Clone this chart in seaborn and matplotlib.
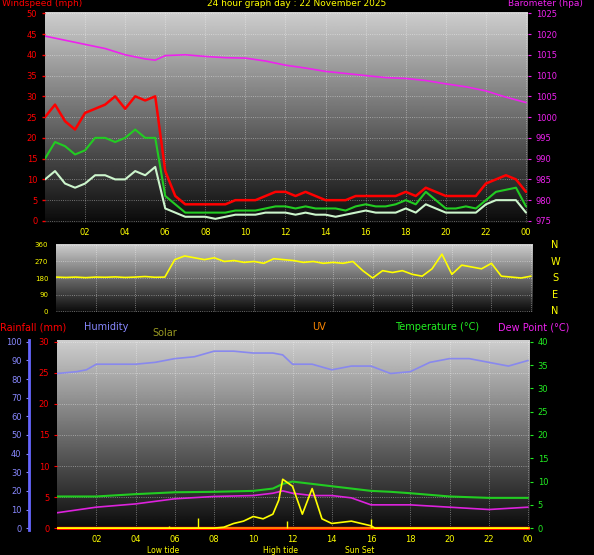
import matplotlib
matplotlib.use("Agg")
import matplotlib.pyplot as plt
import numpy as np
import seaborn as sns

sns.set_style("dark")
plt.rcParams["font.family"] = ["DejaVu Sans"]

# half-hourly time axis (hours)
hours = [h / 2 for h in range(49)]
gust = [25, 28, 24, 22, 26, 27, 28, 30, 27, 30, 29, 30, 12, 6, 4, 4, 4, 4, 4, 5, 5, 5, 6, 7, 7,
        6, 7, 6, 5, 5, 5, 6, 6, 6, 6, 6, 7, 6, 8, 7, 6, 6, 6, 6, 9, 10, 11, 10, 7]
avg_wind = [15, 19, 18, 16, 17, 20, 20, 19, 20, 22, 20, 20, 6, 4, 2, 2, 2, 2, 2, 2.5, 2.5, 2.5, 3, 3.5, 3.5,
            3, 3.5, 3, 3, 3, 2.5, 3.5, 4, 3.5, 3.5, 4, 5, 4, 7, 5, 3, 3, 3.5, 3, 5, 7, 7.5, 8, 3.5]
wind = [10, 12, 9, 8, 9, 11, 11, 10, 10, 12, 11, 13, 3, 2, 1, 1, 1, 0.5, 1, 1.5, 1.5, 1.5, 2, 2, 2,
        1.5, 2, 1.5, 1.5, 1, 1.5, 2, 2.5, 2, 2, 2, 3, 2, 4, 3, 2, 2, 2, 2, 4, 5, 5, 5, 2]
direction = [185, 183, 185, 182, 185, 184, 186, 183, 185, 188, 184, 185, 280, 300, 290, 280, 290, 270, 275, 265,
             270, 260, 285, 280, 275, 265, 270, 260, 265, 260, 270, 220, 180, 220, 210, 220, 200, 190, 230, 310,
             200, 250, 240, 230, 260, 190, 185, 180, 190]

baro_hours = [0, 1, 2, 3, 4, 5, 5.5, 6, 7, 8, 9, 10, 11, 12, 13, 14, 15, 16, 17, 18, 19, 20, 21, 22, 23, 24]
baro = [1019.5, 1018.5, 1017.5, 1016.5, 1015, 1014, 1013.7, 1014.8, 1015, 1014.6, 1014.3, 1014.2, 1013.5,
        1012.5, 1011.8, 1011, 1010.5, 1010, 1009.5, 1009.3, 1008.8, 1008, 1007.3, 1006.3, 1004.8, 1003.5]

hum_hours = [0, 1, 1.5, 2, 3, 4, 5, 6, 7, 8, 9, 10, 11, 11.5, 12, 13, 14, 15, 16, 17, 18, 19, 20, 21, 22, 23, 24]
humidity = [83, 84, 85, 88, 88, 88, 89, 91, 92, 95, 95, 94, 94, 93, 88, 88, 85, 87, 87, 83, 84, 89, 91, 91, 89, 87, 90]

temp_hours = [0, 2, 4, 6, 8, 10, 11, 11.5, 12, 13, 14, 15, 16, 17, 18, 20, 22, 24]
temperature = [6.8, 6.8, 7.3, 7.7, 7.8, 8, 8.5, 9.5, 10, 9.5, 9, 8.5, 8, 7.8, 7.5, 6.8, 6.5, 6.5]
dew_point = [3.3, 4.5, 5.2, 6.3, 6.8, 7, 7.5, 8, 7.5, 7, 7, 6.5, 5, 5, 5, 4.5, 4, 4.5]

solar_hours = [0, 8, 8.5, 9, 9.5, 10, 10.5, 11, 11.3, 11.5, 12, 12.5, 13, 13.5, 14, 15, 15.5, 16, 16.2, 24]
solar = [0, 0, 0.2, 1, 1.5, 2.5, 2, 3, 6, 10.5, 9, 3, 8.5, 2, 1, 1.5, 1, 0.5, 0, 0]

tide_times = [5.7, 7.2, 11.7, 16.0]
tide_heights = [0.5, 2.2, 1.5, 2.0]

xticks = list(range(2, 25, 2))
xlabels = ["%02d" % (t % 24) for t in xticks]

W, H = 594, 555
fig = plt.figure(figsize=(W / 100, H / 100), dpi=100, facecolor="black")
grad = np.linspace(0, 1, 256).reshape(-1, 1)


def box(l, t, r, b):
    return [l / W, 1 - b / H, (r - l) / W, (b - t) / H]


def style(ax, xl=True):
    ax.imshow(grad, aspect="auto", cmap="gray", vmin=-0.05, vmax=1.25, extent=(0, 1, 0, 1),
              transform=ax.transAxes, zorder=0, origin="lower")
    ax.set_facecolor("black")
    ax.grid(True, color="white", linestyle=":", linewidth=0.6, alpha=0.5)
    ax.set_axisbelow(False)
    ax.set_xlim(0, 24.1)
    ax.set_xticks(xticks)
    ax.set_xticklabels(xlabels if xl else [])
    ax.tick_params(axis="x", colors="yellow", labelsize=6, length=0)
    for s in ax.spines.values():
        s.set_visible(False)


# wind panel
ax1 = fig.add_axes(box(45, 12, 528, 223))
style(ax1)
ax1.plot(hours, gust, color="red", lw=1.8, zorder=3)
ax1.plot(hours, wind, color="#ccf5cc", lw=1.5, zorder=3)
ax1.plot(hours, avg_wind, color="#22cc22", lw=1.5, zorder=4)
ax1.set_ylim(-0.5, 50.3)
ax1.set_yticks(range(0, 51, 5))
ax1.tick_params(axis="y", colors="red", labelsize=6, length=2, width=1)
axb = ax1.twinx()
axb.plot(baro_hours, baro, color="#ee22ee", lw=1.2, zorder=5)
axb.set_ylim(974.5, 1025.3)
axb.set_yticks(range(975, 1026, 5))
axb.tick_params(axis="y", colors="#ee22ee", labelsize=6, length=2)
axb.grid(False)
for s in axb.spines.values():
    s.set_visible(False)
fig.text(2 / W, 1 - 4 / H, "Windspeed (mph)", color="red", fontsize=6.5, va="center")
fig.text(0.5, 1 - 4 / H, "24 hour graph day : 22 November 2025", color="yellow", fontsize=6.5,
         ha="center", va="center")
fig.text(545 / W, 1 - 4 / H, "Barometer (hpa)", color="#ee22ee", fontsize=6.5, ha="center", va="center")

# direction panel
ax2 = fig.add_axes(box(56, 244, 533, 312))
style(ax2, xl=False)
ax2.plot(hours, direction, color="yellow", lw=1.2, zorder=3)
ax2.set_ylim(-5, 365)
ax2.set_yticks([0, 90, 180, 270, 360])
ax2.tick_params(axis="y", colors="yellow", labelsize=5, length=2)
for i, lab in enumerate(["N", "W", "S", "E", "N"]):
    fig.text(555 / W, 1 - (245 + i * 16.5) / H, lab, color="yellow", fontsize=7, ha="center", va="center")

# legend row
for x, y, lab, col in [(0, 327, "Rainfall (mm)", "red"), (84, 327, "Humidity", "#8888ff"),
                       (152, 333, "Solar", "#999922"), (312, 327, "UV", "#ff8800"),
                       (395, 327, "Temperature (\u00b0C)", "#22ee22"),
                       (498, 327, "Dew Point (\u00b0C)", "#ee22ee")]:
    fig.text(x / W, 1 - y / H, lab, color=col, fontsize=7, va="center")

# bottom panel
ax3 = fig.add_axes(box(57, 340, 530, 530))
style(ax3)
ax3.set_ylim(-0.3, 30.3)
ax3.set_yticks(range(0, 31, 5))
ax3.tick_params(axis="y", colors="red", labelsize=6, length=2)
ax3.axhline(0, color="red", lw=2.5, zorder=3)
axt = ax3.twinx()
axt.set_ylim(-0.4, 40.4)
axt.set_yticks(range(0, 41, 5))
axt.tick_params(axis="y", colors="#22ee22", labelsize=6, length=2)
axt.grid(False)
axt.plot(temp_hours, temperature, color="#22cc22", lw=1.5, zorder=4)
axt.plot(temp_hours, dew_point, color="#dd22dd", lw=1.2, zorder=4)
axt.plot(solar_hours, solar, color="yellow", lw=1.2, zorder=5)
axt.vlines(tide_times, 0, tide_heights, color="yellow", lw=1, zorder=5)
axt.axhline(0, color="#ff9900", lw=1.2, zorder=3)
axh = ax3.twinx()
axh.yaxis.set_ticks_position("left")
axh.spines["left"].set_position(("outward", 20))
axh.spines["left"].set_visible(True)
axh.spines["left"].set_color("#6666ff")
axh.spines["left"].set_linewidth(2)
axh.set_ylim(-1, 101)
axh.set_yticks(range(0, 101, 10))
axh.tick_params(axis="y", colors="#8888ff", labelsize=6, length=2, labelleft=True, labelright=False)
axh.grid(False)
axh.plot(hum_hours, humidity, color="#8888ee", lw=1.2, zorder=4)
for s in ["right", "top", "bottom"]:
    axt.spines[s].set_visible(False)
    axh.spines[s].set_visible(False)
axt.spines["left"].set_visible(False)
for t, lab in [(5.4, "Low tide"), (11.4, "High tide"), (15.4, "Sun Set")]:
    ax3.text(t, -0.085, lab, color="yellow", fontsize=5.5, ha="center", va="top",
             transform=ax3.get_xaxis_transform())

fig.savefig("out.png", dpi=100, facecolor="black")
